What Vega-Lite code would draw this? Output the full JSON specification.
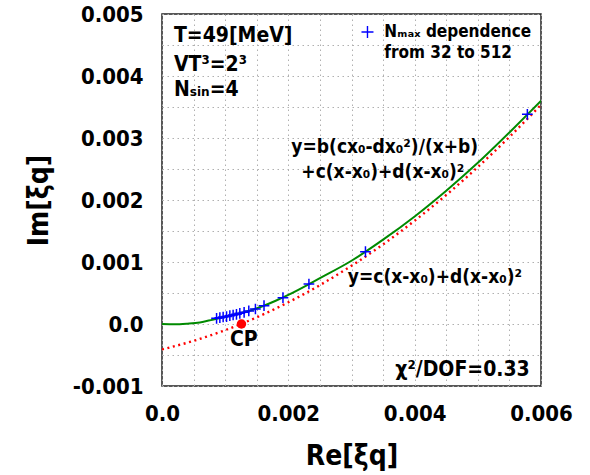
{
  "$schema": "https://vega.github.io/schema/vega-lite/v6.json",
  "width": 379,
  "height": 372,
  "autosize": {"type": "none"},
  "padding": {"left": 162, "top": 14, "right": 49, "bottom": 89},
  "background": "white",
  "config": {
    "view": {"stroke": "#222", "strokeWidth": 1.5},
    "text": {"font": "DejaVu Sans Condensed, DejaVu Sans", "fontWeight": "bold", "color": "black"}
  },
  "datasets": {
    "green": [
      {"x": 0, "y": 0}, {"x": 0.0002, "y": -0.000004}, {"x": 0.0004, "y": 0.000006},
      {"x": 0.0006, "y": 0.000025}, {"x": 0.0008, "y": 0.00007}, {"x": 0.001, "y": 0.000117},
      {"x": 0.0012, "y": 0.000165}, {"x": 0.0014, "y": 0.000217}, {"x": 0.0016, "y": 0.00029},
      {"x": 0.0018, "y": 0.000375}, {"x": 0.002, "y": 0.00047}, {"x": 0.0025, "y": 0.00074},
      {"x": 0.003, "y": 0.00102}, {"x": 0.0035, "y": 0.00136}, {"x": 0.004, "y": 0.001735},
      {"x": 0.0045, "y": 0.00215}, {"x": 0.005, "y": 0.0026}, {"x": 0.0055, "y": 0.00309},
      {"x": 0.006, "y": 0.0036}
    ],
    "red": [
      {"x": 0, "y": -0.00041}, {"x": 0.0005, "y": -0.000272}, {"x": 0.001, "y": -0.000099},
      {"x": 0.0015, "y": 0.000108}, {"x": 0.002, "y": 0.00035}, {"x": 0.0025, "y": 0.000627},
      {"x": 0.003, "y": 0.000939}, {"x": 0.0035, "y": 0.001284}, {"x": 0.004, "y": 0.001666},
      {"x": 0.0045, "y": 0.002081}, {"x": 0.005, "y": 0.002532}, {"x": 0.0055, "y": 0.003017},
      {"x": 0.006, "y": 0.003536}
    ],
    "blue": [
      {"x": 0.005784, "y": 0.003382}, {"x": 0.003221, "y": 0.001166}, {"x": 0.002326, "y": 0.000645},
      {"x": 0.001915, "y": 0.000424}, {"x": 0.001615, "y": 0.000295}, {"x": 0.001479, "y": 0.000242},
      {"x": 0.001374, "y": 0.00021}, {"x": 0.0013, "y": 0.000189}, {"x": 0.001232, "y": 0.000173},
      {"x": 0.001179, "y": 0.000156}, {"x": 0.001126, "y": 0.000145}, {"x": 0.001074, "y": 0.000134},
      {"x": 0.001022, "y": 0.00012}, {"x": 0.000968, "y": 0.000113}, {"x": 0.000916, "y": 0.000102},
      {"x": 0.000864, "y": 0.000092}
    ],
    "cp": [{"x": 0.001258, "y": 0.0}],
    "legendSym": [{"x": 0.003253, "y": 0.00471}],
    "notesLeft": [
      {"x": 0.000189, "y": 0.004645, "text": "T=49[MeV]"},
      {"x": 0.000189, "y": 0.004177, "text": "VT³=2³"},
      {"x": 0.000189, "y": 0.003774, "text": "Nₛᵢₙ=4"}
    ],
    "legendText": [
      {"x": 0.00352, "y": 0.00471, "text": "Nₘₐₓ dependence"},
      {"x": 0.00352, "y": 0.00437, "text": "from 32 to 512"}
    ],
    "formulas": [
      {"x": 0.002048, "y": 0.00286, "text": "y=b(cx₀-dx₀²)/(x+b)"},
      {"x": 0.002206, "y": 0.002457, "text": "+c(x-x₀)+d(x-x₀)²"},
      {"x": 0.002942, "y": 0.000763, "text": "y=c(x-x₀)+d(x-x₀)²"}
    ],
    "cpLabel": [{"x": 0.001295, "y": -0.000258, "text": "CP"}],
    "chi": [{"x": 0.005822, "y": -0.000742, "text": "χ²/DOF=0.33"}]
  },
  "encoding": {
    "x": {
      "field": "x", "type": "quantitative",
      "scale": {"domain": [0, 0.006], "nice": false, "zero": false},
      "axis": {
        "title": "Re[ξq]",
        "values": [0, 0.0005, 0.001, 0.0015, 0.002, 0.0025, 0.003, 0.0035, 0.004, 0.0045, 0.005, 0.0055, 0.006],
        "labelExpr": "abs(datum.value/0.002 - round(datum.value/0.002)) < 0.000001 ? (datum.value == 0 ? '0.0' : format(datum.value, '.3f')) : ''",
        "labelOverlap": false, "labelFlush": false, "labelBound": false,
        "ticks": false, "tickSize": 0, "domain": false,
        "grid": true, "gridColor": "#b0b0b0", "gridDash": [1.5, 3.5], "gridWidth": 1,
        "labelFont": "DejaVu Sans Condensed, DejaVu Sans", "labelFontWeight": "bold", "labelFontSize": 22, "labelColor": "black", "labelPadding": 17,
        "titleFont": "DejaVu Sans Condensed, DejaVu Sans", "titleFontWeight": "bold", "titleFontSize": 28, "titleColor": "black", "titlePadding": 18
      }
    },
    "y": {
      "field": "y", "type": "quantitative",
      "scale": {"domain": [-0.001, 0.005], "nice": false, "zero": false},
      "axis": {
        "title": "Im[ξq]",
        "values": [-0.001, -0.0005, 0, 0.0005, 0.001, 0.0015, 0.002, 0.0025, 0.003, 0.0035, 0.004, 0.0045, 0.005],
        "labelExpr": "abs(datum.value/0.001 - round(datum.value/0.001)) < 0.000001 ? (datum.value == 0 ? '0.0' : replace(format(datum.value, '.3f'), '−', '-')) : ''",
        "labelOverlap": false, "labelFlush": false, "labelBound": false,
        "ticks": false, "tickSize": 0, "domain": false,
        "grid": true, "gridColor": "#b0b0b0", "gridDash": [1.5, 3.5], "gridWidth": 1,
        "labelFont": "DejaVu Sans Condensed, DejaVu Sans", "labelFontWeight": "bold", "labelFontSize": 22, "labelColor": "black", "labelPadding": 19,
        "titleFont": "DejaVu Sans Condensed, DejaVu Sans", "titleFontWeight": "bold", "titleFontSize": 28, "titleColor": "black", "titlePadding": 19
      }
    }
  },
  "layer": [
    {"data": {"name": "green"}, "mark": {"type": "line", "color": "#008a00", "strokeWidth": 2, "interpolate": "monotone", "clip": true}},
    {"data": {"name": "red"}, "mark": {"type": "line", "color": "#ff0000", "strokeWidth": 2.4, "strokeDash": [2, 3.6], "interpolate": "monotone", "clip": true}},
    {"data": {"name": "blue"}, "mark": {"type": "point", "shape": "M-1,0L1,0M0,-1L0,1", "size": 115, "filled": false, "color": "#0000ff", "strokeWidth": 1.5, "opacity": 1}},
    {"data": {"name": "legendSym"}, "mark": {"type": "point", "shape": "M-1,0L1,0M0,-1L0,1", "size": 144, "filled": false, "color": "#0000ff", "strokeWidth": 1.4, "opacity": 1}},
    {"data": {"name": "cp"}, "mark": {"type": "circle", "size": 90, "color": "#ff0000", "opacity": 1}},
    {"data": {"name": "notesLeft"}, "mark": {"type": "text", "align": "left", "baseline": "middle", "fontSize": 21}, "encoding": {"text": {"field": "text"}}},
    {"data": {"name": "legendText"}, "mark": {"type": "text", "align": "left", "baseline": "middle", "fontSize": 17}, "encoding": {"text": {"field": "text"}}},
    {"data": {"name": "formulas"}, "mark": {"type": "text", "align": "left", "baseline": "middle", "fontSize": 19}, "encoding": {"text": {"field": "text"}}},
    {"data": {"name": "cpLabel"}, "mark": {"type": "text", "align": "center", "baseline": "middle", "fontSize": 21}, "encoding": {"text": {"field": "text"}}},
    {"data": {"name": "chi"}, "mark": {"type": "text", "align": "right", "baseline": "middle", "fontSize": 21}, "encoding": {"text": {"field": "text"}}}
  ]
}
